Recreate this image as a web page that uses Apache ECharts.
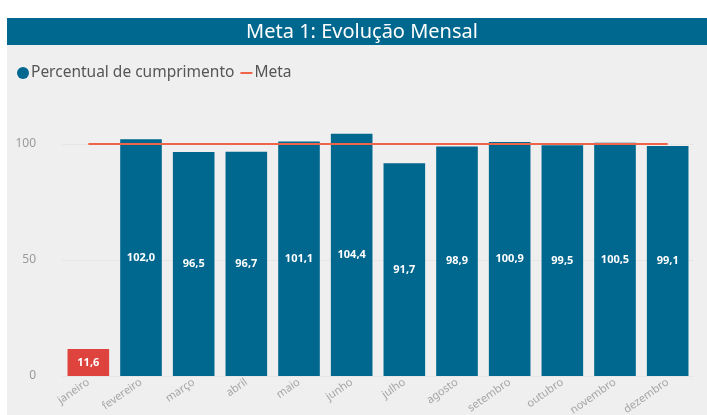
<!DOCTYPE html>
<html>
<head>
<meta charset="utf-8">
<script src="https://cdn.jsdelivr.net/npm/echarts@6/dist/echarts.min.js"></script>
<style>
  html, body { margin: 0; padding: 0; background: #fff; }
  #chart { width: 707px; height: 415px; }
</style>
</head>
<body>
<div id="chart"></div>
<script>
const months = ['janeiro', 'fevereiro', 'março', 'abril', 'maio', 'junho', 'julho', 'agosto', 'setembro', 'outubro', 'novembro', 'dezembro']
const cumprimento = [11.6, 102.0, 96.5, 96.7, 101.1, 104.4, 91.7, 98.9, 100.9, 99.5, 100.5, 99.1]
const meta = [100, 100, 100, 100, 100, 100, 100, 100, 100, 100, 100, 100]
const yTicks = [0, 50, 100]

const blue = '#00678f'
const red = '#df433d'
const orange = '#f0654a'

const chart = echarts.init(document.getElementById('chart'))

const option = {
  backgroundColor: '#ffffff',
  textStyle: { fontFamily: 'Noto Sans' },
  graphic: [
    { type: 'rect', left: 7, top: 45, shape: { width: 700, height: 370 }, style: { fill: '#efefef' }, z: -10 },
    { type: 'rect', left: 7, top: 18, shape: { width: 700, height: 27 }, style: { fill: blue }, z: 10 },
    {
      type: 'text', x: 362, y: 32, z: 11,
      style: {
        text: 'Meta 1: Evolução Mensal', fill: '#fff', font: '20px "Noto Sans"',
        textAlign: 'center', textVerticalAlign: 'middle'
      }
    }
  ],
  legend: {
    left: 12, top: 60,
    itemGap: 6,
    itemWidth: 12, itemHeight: 12,
    textStyle: { color: '#555', fontSize: 15.5, padding: [0, 0, 0, -3] },
    data: [
      { name: 'Percentual de cumprimento', icon: 'circle', itemStyle: { color: blue } },
      { name: 'Meta', icon: 'path://M0 0 H12 V2 H0 Z', itemStyle: { color: orange } }
    ]
  },
  grid: { left: 62, right: 13, top: 144, bottom: 39, outerBoundsMode: 'none' },
  xAxis: {
    type: 'category',
    data: months,
    axisLine: { show: false },
    axisTick: { show: false },
    axisLabel: { rotate: 35, color: '#a6a6a6', fontSize: 11, margin: 5, interval: 0 }
  },
  yAxis: {
    type: 'value',
    min: yTicks[0],
    max: yTicks[yTicks.length - 1],
    interval: 50,
    axisLabel: { color: '#999', fontSize: 12, margin: 26 },
    splitLine: { lineStyle: { color: '#e6e6e6' } }
  },
  series: [
    {
      name: 'Percentual de cumprimento',
      type: 'bar',
      clip: false,
      barWidth: '79%',
      data: cumprimento.map((v, i) => i === 0 ? { value: v, itemStyle: { color: red } } : v),
      itemStyle: { color: blue },
      label: {
        show: true,
        position: 'inside',
        color: '#fff',
        fontWeight: 'bold',
        fontSize: 11,
        formatter: (p) => p.value.toFixed(1).replace('.', ',')
      }
    },
    {
      name: 'Meta',
      type: 'line',
      clip: false,
      data: meta,
      symbol: 'none',
      lineStyle: { color: orange, width: 2 },
      itemStyle: { color: orange },
      z: 5
    }
  ]
}

chart.setOption(option)
</script>
</body>
</html>
